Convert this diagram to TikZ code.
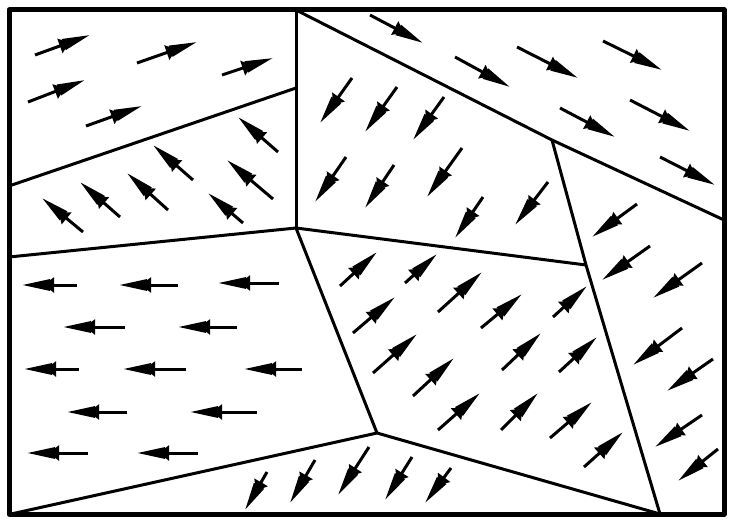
\documentclass[tikz,border=0pt]{standalone}
\usepackage{tikz}
\usetikzlibrary{arrows.meta}
\tikzset{
  sketch/.style={x=1pt,y=-1pt,line join=round},
  frame/.style={draw=black,line width=5pt},
  wall/.style={draw=black,line width=3pt},
  spin/.style={draw=black,line width=3pt,
    -{Triangle[length=10pt,width=15pt,sep=-6pt]Triangle[length=28pt,width=11pt]}},
}
\begin{document}
\begin{tikzpicture}[sketch]
  \useasboundingbox (0,0) rectangle (730,519);

  % junctions of the domain walls
  \coordinate (top) at (296,10);
  \coordinate (mid) at (296,228);
  \coordinate (leftA) at (9,186);
  \coordinate (upA) at (296,88);
  \coordinate (leftB) at (9,257);
  \coordinate (fork) at (552,140);
  \coordinate (rightA) at (724,220);
  \coordinate (knee) at (586,265);
  \coordinate (foot) at (660,514);
  \coordinate (low) at (377,433);
  \coordinate (corner) at (11,514);

  \draw[frame] (9,10) rectangle (724,514);
  \draw[wall] (top) -- (mid);
  \draw[wall] (leftA) -- (upA);
  \draw[wall] (leftB) -- (mid) -- (knee);
  \draw[wall] (top) -- (fork) -- (rightA);
  \draw[wall] (fork) -- (knee) -- (foot);
  \draw[wall] (mid) -- (low);
  \draw[wall] (corner) -- (low) -- (foot);

  % magnetisation in each domain
  \foreach \xa/\ya/\xb/\yb in {35/55/90/35, 137/63/197/42, 222/75/273/58,
      28/102/85/80, 86/126/142/106}
    \draw[spin] (\xa,\ya) -- (\xb,\yb);
  \foreach \xa/\ya/\xb/\yb in {83/232/42/198, 120/217/80/182, 168/210/127/173,
      193/180/153/145, 243/223/208/193, 273/199/227/160, 278/152/238/117}
    \draw[spin] (\xa,\ya) -- (\xb,\yb);
  \foreach \xa/\ya/\xb/\yb in {370/15/423/43, 455/57/510/87, 517/47/578/78,
      603/41/662/70, 560/108/615/137, 630/100/690/131, 660/157/715/185}
    \draw[spin] (\xa,\ya) -- (\xb,\yb);
  \foreach \xa/\ya/\xb/\yb in {352/78/320/123, 397/87/365/132, 444/97/413/140,
      346/157/315/202, 394/165/365/208, 462/148/427/197, 483/197/455/238,
      548/182/515/225}
    \draw[spin] (\xa,\ya) -- (\xb,\yb);
  \foreach \xa/\ya/\xb/\yb in {637/204/592/237, 650/246/602/280, 702/263/653/298,
      682/328/633/365, 713/359/667/391, 702/415/655/447, 718/449/678/481}
    \draw[spin] (\xa,\ya) -- (\xb,\yb);
  \foreach \xa/\ya/\xb/\yb in {340/286/377/252, 405/283/437/254, 438/312/482/272,
      353/333/395/297, 481/328/522/294, 553/317/587/286, 373/373/417/334,
      413/396/454/358, 502/370/541/333, 559/372/597/337, 438/430/480/393,
      501/430/538/393, 550/438/592/402, 584/467/623/432}
    \draw[spin] (\xa,\ya) -- (\xb,\yb);
  \foreach \xa/\ya/\xb/\yb in {267/472/245/510, 315/460/290/503, 369/447/338/495,
      412/457/385/500, 451/468/425/503}
    \draw[spin] (\xa,\ya) -- (\xb,\yb);
  \foreach \xa/\ya/\xb/\yb in {77/285/22/285, 178/285/119/285, 279/283/218/283,
      125/327/63/327, 237/327/178/327, 79/369/24/369, 186/369/123/369,
      302/369/244/369, 127/412/67/412, 257/412/190/412, 88/453/27/453,
      198/453/137/453}
    \draw[spin] (\xa,\ya) -- (\xb,\yb);
\end{tikzpicture}
\end{document}
